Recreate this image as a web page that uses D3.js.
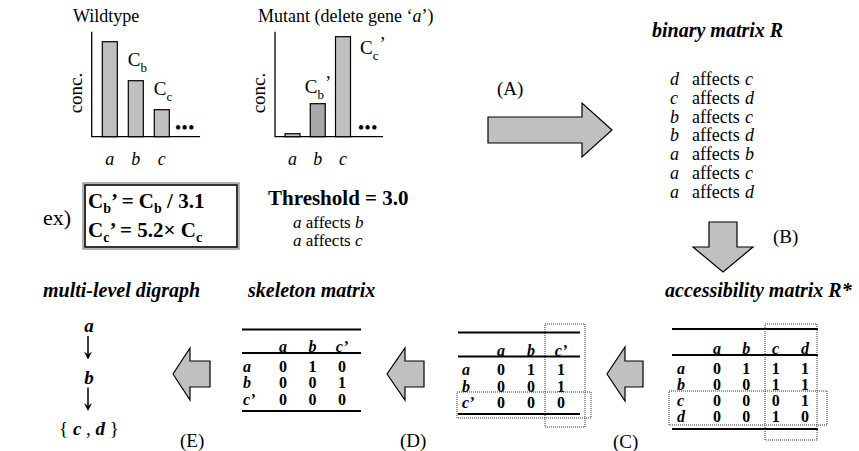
<!DOCTYPE html>
<html><head><meta charset="utf-8">
<script src="https://cdn.jsdelivr.net/npm/d3@7"></script>
<style>body{margin:0;background:#fff}svg{display:block}text{font-family:"Liberation Serif","Times New Roman",serif;fill:#000}</style>
</head><body>
<script>
// ---- data ----
const genes = ["a", "b", "c"];
const wildtypeConc = [95, 56, 27];
const mutantConc = [3, 33, 100];
const wildtypeLabels = [null, ["C", "b", ""], ["C", "c", ""]];
const mutantLabels = [null, ["C", "b", "’"], ["C", "c", "’"]];
const thresholdValue = "3.0";
const thresholdRelations = [["a", "b"], ["a", "c"]];
const binaryRelations = [["d","c"],["c","d"],["b","c"],["b","d"],["a","b"],["a","c"],["a","d"]];
const rstarNodes = ["a", "b", "c", "d"];
const rstarValues = [[0,1,1,1],[0,0,1,1],[0,0,0,1],[0,0,1,0]];
const reducedNodes = ["a", "b", "c’"];
const reducedValues = [[0,1,1],[0,0,1],[0,0,0]];
const skeletonValues = [[0,1,0],[0,0,1],[0,0,0]];
const digraphLevels = [["a"], ["b"], ["c", "d"]];
const stepLabels = ["(A)", "(B)", "(C)", "(D)", "(E)"];

const W = 859, H = 451;
const svg = d3.select("body").append("svg").attr("width", W).attr("height", H)
  .attr("font-family", "Liberation Serif, Times New Roman, serif");
const GRAY = "#c0c0c0";

// ---- bar charts ----
function barChart(o) {
  const g = svg.append("g");
  const x = d3.scalePoint().domain(genes).range(o.xr);
  const y = d3.scaleLinear().domain([0, 105]).range([136.7, 31.7]);
  g.append("text").attr("x", o.titleX).attr("y", 22).attr("font-size", 18).html(o.title);
  g.append("text").attr("transform", `translate(${o.axisX - 10},${93}) rotate(-90)`)
    .attr("text-anchor", "middle").attr("font-size", 19).text("conc.");
  g.append("path").attr("d", `M${o.axisX},${y(105)}V${y(0)}H${o.axisEnd}`)
    .attr("fill", "none").attr("stroke", "#000").attr("stroke-width", 1.3);
  g.selectAll("rect").data(o.values).join("rect")
    .attr("x", (d, i) => x(genes[i]) - 7.5).attr("width", 15)
    .attr("y", d => y(d)).attr("height", d => y(0) - y(d))
    .attr("fill", (d, i) => o.fills[i]).attr("stroke", "#000").attr("stroke-width", 1.2);
  g.selectAll("text.xl").data(genes).join("text").attr("class", "xl")
    .attr("x", d => x(d)).attr("y", 165).attr("text-anchor", "middle")
    .attr("font-size", 18).attr("font-style", "italic").text(d => d);
  g.append("text").attr("x", o.axisEnd - 5).attr("y", 133).attr("text-anchor", "end")
    .attr("font-size", 16).attr("font-weight", "bold").attr("letter-spacing", 1).text("•••");
  o.labels.forEach((l, i) => {
    if (!l) return;
    const p = o.labelPos(i, x(genes[i]), y(o.values[i]));
    const t = g.append("text").attr("x", p[0]).attr("y", p[1]).attr("font-size", 19);
    t.append("tspan").text(l[0]);
    t.append("tspan").attr("font-size", 13).attr("dy", 6).text(l[1]);
    if (l[2]) t.append("tspan").attr("dy", -10).attr("dx", 1).text(l[2]);
  });
}
barChart({title: "Mutant (delete gene ‘<tspan font-style='italic'>a</tspan>’)", titleX: 258, axisX: 275, axisEnd: 383, xr: [292.5, 343],
  values: mutantConc, labels: mutantLabels, fills: [GRAY, "#a9a9a9", GRAY],
  labelPos: (i, cx, ty) => i === 1 ? [cx - 13, ty - 11] : [cx + 17, ty + 17]});
barChart({title: "Wildtype", titleX: 73, axisX: 91.7, axisEnd: 200, xr: [109.8, 161.8],
  values: wildtypeConc, labels: wildtypeLabels, fills: [GRAY, GRAY, GRAY],
  labelPos: (i, cx, ty) => [cx - 8, ty - 15]});

// ---- example box ----
svg.append("text").attr("x", 43).attr("y", 225).attr("font-size", 22).text("ex)");
svg.append("rect").attr("x", 83).attr("y", 183).attr("width", 156).attr("height", 66)
  .attr("fill", "none").attr("stroke", "#666").attr("stroke-width", 1);
svg.append("rect").attr("x", 85).attr("y", 185).attr("width", 152).attr("height", 62)
  .attr("fill", "none").attr("stroke", "#000").attr("stroke-width", 1.6);
function eqLine(y, parts) {
  const t = svg.append("text").attr("x", 88).attr("y", y).attr("font-size", 21).attr("font-weight", "bold");
  parts.forEach(p => {
    if (p.sub) t.append("tspan").attr("font-size", 14).attr("dy", 5).text(p.sub);
    else t.append("tspan").attr("dy", p.up ? -5 : 0).text(p.t);
  });
}
eqLine(208, [{t: "C"}, {sub: "b"}, {t: "’ = C", up: 1}, {sub: "b"}, {t: " / 3.1", up: 1}]);
eqLine(237, [{t: "C"}, {sub: "c"}, {t: "’ = 5.2×  C", up: 1}, {sub: "c"}]);

// ---- threshold ----
svg.append("text").attr("x", 268).attr("y", 205).attr("font-size", 21).attr("font-weight", "bold")
  .text("Threshold = " + thresholdValue);
thresholdRelations.forEach((r, i) => {
  const t = svg.append("text").attr("x", 293).attr("y", 228 + i * 17.5).attr("font-size", 17);
  t.append("tspan").attr("font-style", "italic").text(r[0]);
  t.append("tspan").text(" affects ");
  t.append("tspan").attr("font-style", "italic").text(r[1]);
});

// ---- block arrows ----
function blockArrow(tipX, tipY, dir, len, bodyHalf, headHalf, headLen) {
  const pts = [[0,0],[-headLen,-headHalf],[-headLen,-bodyHalf],[-len,-bodyHalf],[-len,bodyHalf],[-headLen,bodyHalf],[-headLen,headHalf]];
  const ang = {right: 0, down: 90, left: 180}[dir];
  svg.append("polygon").attr("points", pts.map(p => p.join(",")).join(" "))
    .attr("transform", `translate(${tipX},${tipY}) rotate(${ang})`)
    .attr("fill", GRAY).attr("stroke", "#000").attr("stroke-width", 1.2).attr("stroke-linejoin", "miter");
}
blockArrow(612, 130, "right", 124, 13, 27, 30);
blockArrow(723, 272, "down", 50, 14, 30, 25);
blockArrow(607, 374, "left", 36, 13, 27, 18);
blockArrow(387, 374, "left", 37, 13, 26, 18);
blockArrow(173, 374, "left", 37, 13, 26, 17);
const stepPos = [[497, 95], [773, 243], [613, 448], [400, 447], [180, 447]];
stepLabels.forEach((s, i) => svg.append("text").attr("x", stepPos[i][0]).attr("y", stepPos[i][1]).attr("font-size", 19).text(s));

// ---- binary matrix R ----
function title(x, y, s) {
  svg.append("text").attr("x", x).attr("y", y).attr("font-size", 20).attr("font-weight", "bold")
    .attr("font-style", "italic").text(s);
}
title(652, 37, "binary matrix R");
const relY = d3.scalePoint().domain(d3.range(binaryRelations.length)).range([85, 197.6]);
binaryRelations.forEach((r, i) => {
  const y = relY(i);
  svg.append("text").attr("x", 670).attr("y", y).attr("font-size", 18).attr("font-style", "italic").text(r[0]);
  svg.append("text").attr("x", 692).attr("y", y).attr("font-size", 18).text("affects");
  svg.append("text").attr("x", 745).attr("y", y).attr("font-size", 18).attr("font-style", "italic").text(r[1]);
});

// ---- matrices ----
function matrix(o) {
  const g = svg.append("g");
  const cx = d3.scalePoint().domain(o.cols).range(o.colRange);
  const ry = d3.scalePoint().domain(o.rows).range(o.rowRange);
  const line = (y) => g.append("line").attr("x1", o.x1).attr("x2", o.x2).attr("y1", y).attr("y2", y)
    .attr("stroke", "#000").attr("stroke-width", 2);
  line(o.top); line(o.header); line(o.bottom);
  g.selectAll("text.h").data(o.cols).join("text").attr("class", "h")
    .attr("x", d => cx(d)).attr("y", o.header - 1).attr("text-anchor", "middle")
    .attr("font-size", 16).attr("font-weight", "bold").attr("font-style", "italic").text(d => d);
  o.rows.forEach((r, i) => {
    g.append("text").attr("x", o.labelX).attr("y", ry(r)).attr("font-size", 16)
      .attr("font-weight", "bold").attr("font-style", "italic").text(r);
    o.values[i].forEach((v, j) => {
      g.append("text").attr("x", cx(o.cols[j])).attr("y", ry(r)).attr("text-anchor", "middle")
        .attr("font-size", 16).attr("font-weight", "bold").text(v);
    });
  });
  (o.dotted || []).forEach(b => {
    g.append("rect").attr("x", b[0]).attr("y", b[1]).attr("width", b[2] - b[0]).attr("height", b[3] - b[1])
      .attr("fill", "none").attr("stroke", "#333").attr("stroke-width", 1).attr("stroke-dasharray", "1,1");
  });
}
title(665, 297, "accessibility matrix R*");
matrix({rows: rstarNodes, cols: rstarNodes, values: rstarValues, x1: 672, x2: 818, labelX: 677,
  colRange: [717, 805], rowRange: [374, 422], top: 329, header: 355, bottom: 429,
  dotted: [[765, 324, 817, 440], [669, 391, 827, 425]]});
matrix({rows: reducedNodes, cols: reducedNodes, values: reducedValues, x1: 458, x2: 580, labelX: 462,
  colRange: [501, 561], rowRange: [375, 408], top: 332.5, header: 356.5, bottom: 414,
  dotted: [[545, 324, 585, 427], [457, 392, 591, 418]]});
title(248, 297, "skeleton matrix");
matrix({rows: reducedNodes, cols: reducedNodes, values: skeletonValues, x1: 242, x2: 361, labelX: 243,
  colRange: [283, 342], rowRange: [371.5, 404.5], top: 329.5, header: 353, bottom: 411});

// ---- multi-level digraph ----
title(43, 297, "multi-level digraph");
const lvY = d3.scalePoint().domain(d3.range(digraphLevels.length)).range([332, 435]);
digraphLevels.forEach((lv, i) => {
  const t = svg.append("text").attr("x", 89).attr("y", lvY(i)).attr("text-anchor", "middle").attr("font-size", 19);
  if (lv.length === 1) t.attr("font-weight", "bold").attr("font-style", "italic").text(lv[0]);
  else {
    t.append("tspan").text("{ ");
    lv.forEach((n, k) => {
      if (k) t.append("tspan").text(" , ");
      t.append("tspan").attr("font-style", "italic").attr("font-weight", "bold").text(n);
    });
    t.append("tspan").text(" }");
  }
  if (i < digraphLevels.length - 1) {
    const y0 = lvY(i) + 4, y1 = lvY(i + 1) - 24;
    svg.append("line").attr("x1", 88).attr("x2", 88).attr("y1", y0).attr("y2", y1 - 4)
      .attr("stroke", "#000").attr("stroke-width", 1.5);
    svg.append("path").attr("d", `M84,${y1 - 8}L88,${y1}L92,${y1 - 8}L88,${y1 - 5}Z`).attr("fill", "#000");
  }
});
</script>
</body></html>
